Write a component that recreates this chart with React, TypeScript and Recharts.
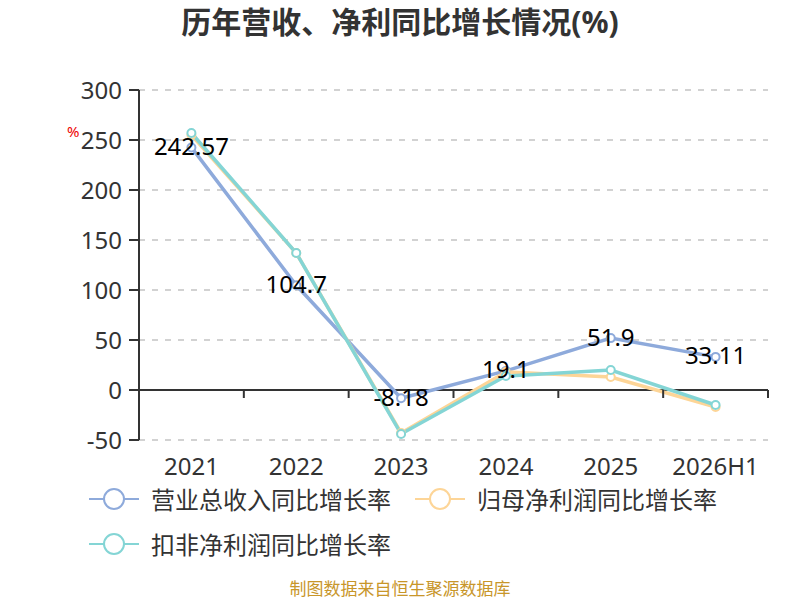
import { LineChart, Line, XAxis, YAxis, CartesianGrid, ReferenceLine } from 'recharts';

const years = ['2021', '2022', '2023', '2024', '2025', '2026H1'];
const revenueGrowth = [242.57, 104.7, -8.18, 19.1, 51.9, 33.11];
const netProfitGrowth = [255, 137, -43, 18, 13, -17];
const deductedGrowth = [257, 137, -44, 14, 20, -15];
const yTicks = [-50, 0, 50, 100, 150, 200, 250, 300];

const seriesNames = ['营业总收入同比增长率', '归母净利润同比增长率', '扣非净利润同比增长率'];
const seriesColors = ['#8eaadb', '#fdd597', '#84d5d5'];

const FONT = "'Noto Sans', 'Noto Sans CJK SC', sans-serif";

const data = years.map((year, i) => ({
  year,
  revenue: revenueGrowth[i],
  netProfit: netProfitGrowth[i],
  deducted: deductedGrowth[i],
}));

// x labels sit below the plot, band tick marks sit on the zero line (50px above plot bottom)
function XTick(props: any) {
  const { x, y, payload, index } = props;
  const half = payload.offset ?? 52.4;
  const zeroY = y - 50;
  return (
    <g>
      <line x1={x - half} x2={x - half} y1={zeroY} y2={zeroY + 8} stroke="#333" strokeWidth={2} />
      {index === years.length - 1 && (
        <line x1={x + half} x2={x + half} y1={zeroY} y2={zeroY + 8} stroke="#333" strokeWidth={2} />
      )}
      <text x={x} y={y + 25} textAnchor="middle" dominantBaseline="central" fontSize={24} fill="#333" fontFamily={FONT}>
        {payload.value}
      </text>
    </g>
  );
}

function ValueLabel(props: any) {
  const { x, y, value } = props;
  return (
    <text x={x} y={y - 2} textAnchor="middle" dominantBaseline="central" fontSize={24} fill="#000" fontFamily={FONT}>
      {value}
    </text>
  );
}

function LegendItem({ name, color }: { name: string; color: string }) {
  return (
    <div style={{ display: 'flex', alignItems: 'center' }}>
      <svg width={50} height={24} style={{ marginRight: 12 }}>
        <line x1={0} x2={50} y1={12} y2={12} stroke={color} strokeWidth={2} />
        <circle cx={25} cy={12} r={10} fill="#fff" stroke={color} strokeWidth={2} />
      </svg>
      <span style={{ fontSize: 24, color: '#333', fontFamily: FONT, whiteSpace: 'nowrap' }}>{name}</span>
    </div>
  );
}

export default function App() {
  return (
    <div style={{ position: 'absolute', left: 0, top: 0, width: 800, height: 600, background: '#fff', overflow: 'hidden' }}>
      <div
        style={{
          position: 'absolute', left: 0, top: 4, width: 800, textAlign: 'center', lineHeight: '36px',
          fontSize: 30, fontWeight: 'bold', color: '#333', fontFamily: FONT,
        }}
      >
        历年营收、净利同比增长情况(%)
      </div>
      <div style={{ position: 'absolute', left: 67, top: 122, fontSize: 15, lineHeight: '18px', color: '#e00', fontFamily: FONT }}>%</div>

      <LineChart width={800} height={600} data={data} margin={{ top: 90, right: 32, bottom: 120, left: 0 }}>
        <CartesianGrid vertical={false} stroke="#c4c4c4" strokeWidth={1.5} strokeDasharray="6 7" />
        <XAxis
          dataKey="year"
          scale="band"
          axisLine={false}
          tickLine={false}
          tickSize={0}
          tickMargin={0}
          height={40}
          interval={0}
          tick={<XTick />}
        />
        <YAxis
          domain={[-50, 300]}
          ticks={yTicks}
          width={139}
          tickSize={10}
          tickMargin={7}
          axisLine={{ stroke: '#333', strokeWidth: 2 }}
          tickLine={{ stroke: '#333', strokeWidth: 2 }}
          tick={{ fontSize: 24, fill: '#333', fontFamily: FONT }}
          allowDataOverflow
        />
        <ReferenceLine y={0} stroke="#333" strokeWidth={2} />
        <Line
          dataKey="revenue"
          stroke={seriesColors[0]}
          strokeWidth={3.5}
          dot={{ r: 4, fill: '#fff', stroke: seriesColors[0], strokeWidth: 2 }}
          label={<ValueLabel />}
          isAnimationActive={false}
        />
        <Line
          dataKey="netProfit"
          stroke={seriesColors[1]}
          strokeWidth={3.5}
          dot={{ r: 4, fill: '#fff', stroke: seriesColors[1], strokeWidth: 2 }}
          isAnimationActive={false}
        />
        <Line
          dataKey="deducted"
          stroke={seriesColors[2]}
          strokeWidth={3.5}
          dot={{ r: 4, fill: '#fff', stroke: seriesColors[2], strokeWidth: 2 }}
          isAnimationActive={false}
        />
      </LineChart>

      <div style={{ position: 'absolute', left: 89, top: 481 }}>
        <LegendItem name={seriesNames[0]} color={seriesColors[0]} />
      </div>
      <div style={{ position: 'absolute', left: 415, top: 481 }}>
        <LegendItem name={seriesNames[1]} color={seriesColors[1]} />
      </div>
      <div style={{ position: 'absolute', left: 89, top: 526 }}>
        <LegendItem name={seriesNames[2]} color={seriesColors[2]} />
      </div>

      <div
        style={{
          position: 'absolute', left: 0, top: 579, width: 800, textAlign: 'center', lineHeight: '20px',
          fontSize: 17, color: '#c8962a', fontFamily: FONT,
        }}
      >
        制图数据来自恒生聚源数据库
      </div>
    </div>
  );
}
